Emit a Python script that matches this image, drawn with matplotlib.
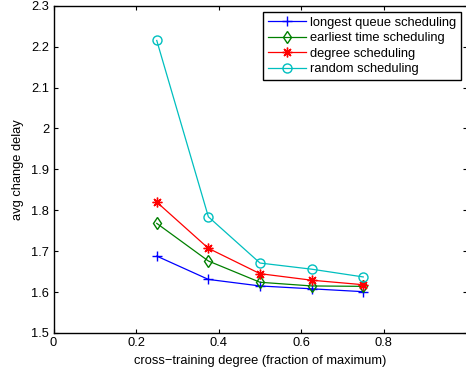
import matplotlib
matplotlib.use('Agg')
import matplotlib.pyplot as plt

plt.rcParams['font.family'] = ['Liberation Sans', 'DejaVu Sans']

x = [0.25, 0.375, 0.5, 0.625, 0.75]
longest_queue = [1.688, 1.631, 1.615, 1.608, 1.601]
earliest_time = [1.768, 1.676, 1.624, 1.615, 1.614]
degree = [1.820, 1.707, 1.645, 1.629, 1.618]
random_sched = [2.215, 1.784, 1.671, 1.656, 1.637]

fs = 9.3

fig = plt.figure(figsize=(4.66, 3.72), dpi=100)
ax = fig.add_axes([53.5/466, 39/372, 413/466, 327.3/372])

ax.plot(x, longest_queue, color='b', marker='+', lw=0.9, ms=7, label='longest queue scheduling')
ax.plot(x, earliest_time, color=(0, 0.5, 0), marker='d', mfc='none', lw=0.9, ms=6.5, label='earliest time scheduling')
ax.plot(x, degree, color='r', marker=(8, 2, 0), lw=0.9, ms=7, mew=1.0, label='degree scheduling')
ax.plot(x, random_sched, color=(0, 0.75, 0.75), marker='o', mfc='none', lw=0.9, ms=6.5, label='random scheduling')

ax.set_xlim(0, 1)
ax.set_ylim(1.5, 2.3)
ax.set_xticks([0, 0.2, 0.4, 0.6, 0.8])
ax.set_xticklabels(['0', '0.2', '0.4', '0.6', '0.8'])
ax.set_yticks([1.5, 1.6, 1.7, 1.8, 1.9, 2.0, 2.1, 2.2, 2.3])
ax.set_yticklabels(['1.5', '1.6', '1.7', '1.8', '1.9', '2', '2.1', '2.2', '2.3'])
ax.tick_params(direction='in', labelsize=fs, top=True, right=True, length=3, pad=3)
for s in ax.spines.values():
    s.set_linewidth(1.0)

ax.set_xlabel('cross\u2212training degree (fraction of maximum)', fontsize=fs, labelpad=4)
ax.set_ylabel('avg change delay', fontsize=fs, labelpad=5)

leg = ax.legend(loc='upper right', bbox_to_anchor=(461/466, 1 - 12/372), bbox_transform=fig.transFigure,
                fontsize=fs, fancybox=False, framealpha=1, edgecolor='black',
                handlelength=3.0, borderpad=0.35, labelspacing=0.27, handletextpad=0.3, borderaxespad=0)
leg.get_frame().set_linewidth(1.0)

fig.savefig('out.png', dpi=100)
